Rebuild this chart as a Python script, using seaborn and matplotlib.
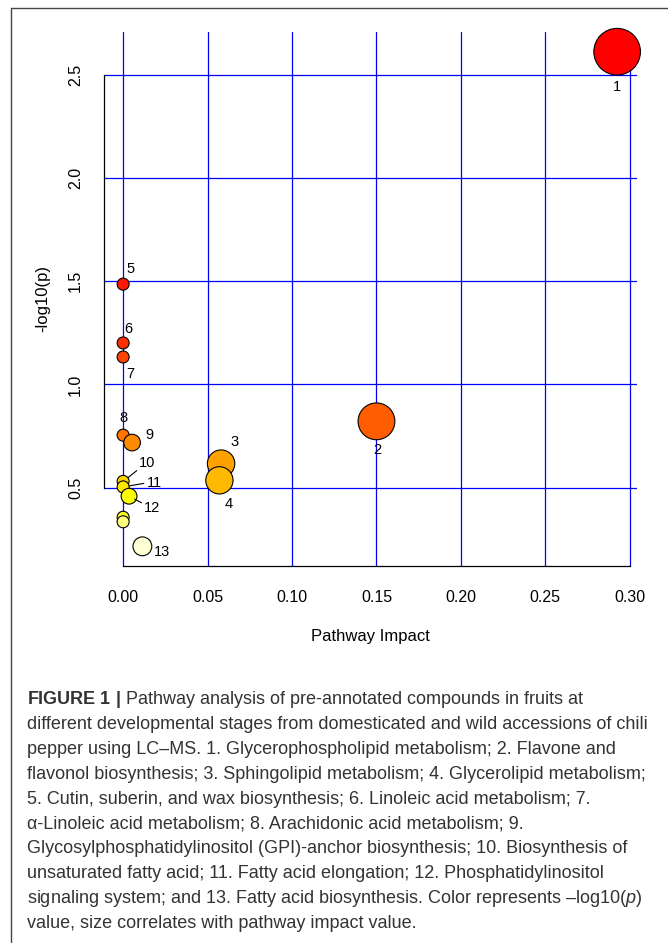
import colorsys
import numpy as np
import pandas as pd
import matplotlib
matplotlib.use('Agg')
import matplotlib.pyplot as plt
from matplotlib.colors import ListedColormap
from matplotlib.lines import Line2D
import seaborn as sns

# Pathway analysis results, ordered from most to least significant
pathway_ids = ['1', '5', '6', '7', '2', '8', '9', '3', '4', '10', '11', '12', '', '', '13']
impact = [0.2925, 0.0, 0.0, 0.0, 0.150, 0.0, 0.0053, 0.058, 0.057, 0.0, 0.0, 0.0035, 0.0, 0.0, 0.0114]
neg_log_p = [2.613, 1.486, 1.201, 1.133, 0.821, 0.754, 0.718, 0.616, 0.535, 0.530, 0.503, 0.458, 0.356, 0.334, 0.215]

x_ticks = [0.0, 0.05, 0.10, 0.15, 0.20, 0.25, 0.30]
y_ticks = [0.5, 1.0, 1.5, 2.0, 2.5]

caption_lines = [
    r'$\bf{FIGURE\ 1\ |}$ Pathway analysis of pre-annotated compounds in fruits at',
    'different developmental stages from domesticated and wild accessions of chili',
    'pepper using LC–MS. 1. Glycerophospholipid metabolism; 2. Flavone and',
    'flavonol biosynthesis; 3. Sphingolipid metabolism; 4. Glycerolipid metabolism;',
    '5. Cutin, suberin, and wax biosynthesis; 6. Linoleic acid metabolism; 7.',
    'α-Linoleic acid metabolism; 8. Arachidonic acid metabolism; 9.',
    'Glycosylphosphatidylinositol (GPI)-anchor biosynthesis; 10. Biosynthesis of',
    'unsaturated fatty acid; 11. Fatty acid elongation; 12. Phosphatidylinositol',
    r'signaling system; and 13. Fatty acid biosynthesis. Color represents –log10($\it{p}$)',
    'value, size correlates with pathway impact value.',
]

sns.set_theme(style='white')
plt.rcParams['font.family'] = ['Liberation Sans', 'DejaVu Sans']
plt.rcParams['mathtext.fontset'] = 'custom'
plt.rcParams['mathtext.rm'] = 'Liberation Sans'
plt.rcParams['mathtext.it'] = 'Liberation Sans:italic'
plt.rcParams['mathtext.bf'] = 'Liberation Sans:bold'

df = pd.DataFrame({'pathway': pathway_ids, 'impact': impact, 'neg_log_p': neg_log_p})
df['rank'] = np.arange(len(df))

# R heat.colors(n): red -> yellow, then fading yellows
n = len(df)
j = n // 4
heat = [colorsys.hsv_to_rgb(h, 1, 1) for h in np.linspace(0, 1 / 6, n - j)]
heat += [colorsys.hsv_to_rgb(1 / 6, s, 1) for s in np.linspace(1 - 1 / (2 * j), 1 / (2 * j), j)]

# marker diameter grows with sqrt of impact (pixels -> points, squared for area)
diam_pt = (12 + 64 * np.sqrt(df['impact'])) * 0.72
df['area'] = diam_pt ** 2

fig = plt.figure(figsize=(6.68, 9.43), dpi=100)
ax = fig.add_axes([0.155, 0.4003, 0.7987, 0.5661])

sns.scatterplot(data=df, x='impact', y='neg_log_p', hue='rank',
                palette=ListedColormap(heat), hue_norm=(-0.5, n - 0.5),
                size='area', sizes=(df['area'].min(), df['area'].max()),
                edgecolor='black', linewidth=0.8, legend=False, ax=ax, zorder=3)
for coll in ax.collections:
    coll.set_clip_on(False)

ax.set_xlim(-0.0116, 0.3043)
ax.set_ylim(0.122, 2.71)
ax.set_xticks(x_ticks)
ax.set_xticklabels([f'{t:.2f}' for t in x_ticks])
ax.set_yticks(y_ticks)
ax.set_yticklabels([f'{t:.1f}' for t in y_ticks], rotation=90, va='center')
ax.grid(True, color='#0000ff', lw=0.9)
ax.set_axisbelow(True)

for side in ['top', 'right']:
    ax.spines[side].set_visible(False)
ax.spines['left'].set_bounds(0.5, 2.5)
ax.spines['bottom'].set_bounds(0, 0.3)
for side in ['left', 'bottom']:
    ax.spines[side].set_color('black')
    ax.spines[side].set_linewidth(0.9)
ax.tick_params(axis='both', direction='out', length=7.7, width=0.9, color='black',
               labelsize=11.5, labelcolor='black')
ax.tick_params(axis='x', pad=10)
ax.tick_params(axis='y', pad=7)

ax.set_xlabel('Pathway Impact', fontsize=12, color='black')
ax.xaxis.set_label_coords(0.5, -0.118)
ax.set_ylabel('-log10(p)', fontsize=12, color='black')
ax.yaxis.set_label_coords(-0.1, 0.5)

# label offsets in pixels (right, down) from each point
label_offsets = {'1': (0, 35), '2': (1, 29), '3': (13, -22), '4': (9, 24),
                 '5': (7, -15), '6': (5, -13.5), '7': (7, 17), '8': (0.5, -17),
                 '9': (17, -8), '10': (24, -18), '11': (31, -4), '12': (23, 12),
                 '13': (20, 6)}
# leader lines start at this corner of the label
leaders = {'10': (0.0, 0.1), '11': (0.0, 0.5), '12': (0.0, 0.8)}
for _, row in df.iterrows():
    if row['pathway'] == '':
        continue
    dx, dy = label_offsets[row['pathway']]
    arrow = None
    if row['pathway'] in leaders:
        arrow = dict(arrowstyle='-', color='black', lw=0.8, patchA=None,
                     relpos=leaders[row['pathway']], shrinkA=2, shrinkB=4.5)
    ax.annotate(row['pathway'], (row['impact'], row['neg_log_p']),
                xytext=(dx * 0.72, -dy * 0.72), textcoords='offset points',
                ha='center', va='center', fontsize=10.5, color='black',
                arrowprops=arrow, zorder=4, annotation_clip=False)

# page frame
fig.add_artist(Line2D([11 / 668, 11 / 668], [1 - 8 / 943, 0], transform=fig.transFigure,
                      color='#444444', lw=1))
fig.add_artist(Line2D([11 / 668, 1], [1 - 8 / 943, 1 - 8 / 943], transform=fig.transFigure,
                      color='#444444', lw=1))

# caption
for k, line in enumerate(caption_lines):
    fig.text(27 / 668, 1 - (704 + 24.9 * k) / 943, line, fontsize=13,
             color='#333333', va='baseline', ha='left')

fig.savefig('out.png', dpi=100)
